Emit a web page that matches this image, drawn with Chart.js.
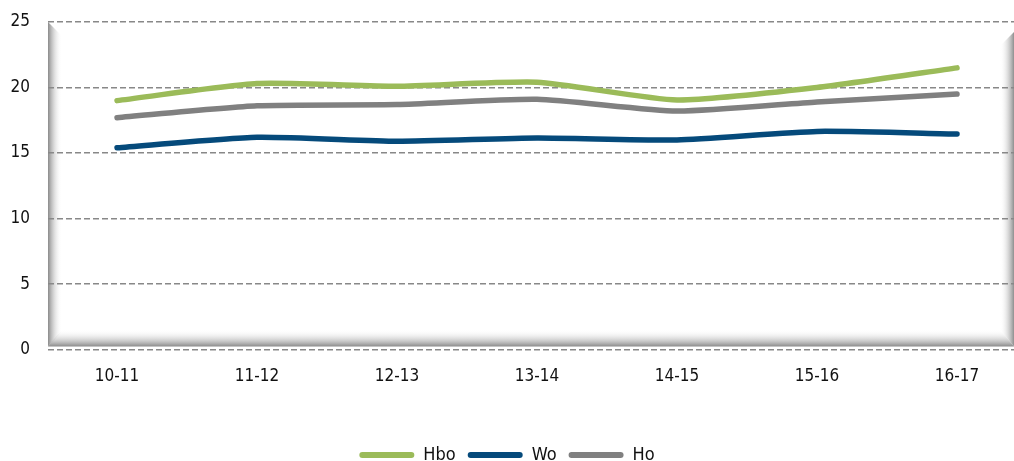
<!DOCTYPE html>
<html>
<head>
<meta charset="utf-8">
<script src="https://cdn.jsdelivr.net/npm/chart.js@4/dist/chart.umd.min.js"></script>
<style>
  html, body { margin: 0; padding: 0; background: #fff; overflow: hidden; }
  #wrap { width: 1014px; height: 461px; }
</style>
</head>
<body>
<div id="wrap"><canvas id="chart"></canvas></div>
<script>
const years = ['10-11', '11-12', '12-13', '13-14', '14-15', '15-16', '16-17'];
const hbo = [19.0, 20.3, 20.1, 20.4, 19.05, 20.0, 21.5];
const wo = [15.4, 16.2, 15.9, 16.15, 16.0, 16.65, 16.45];
const ho = [17.7, 18.6, 18.7, 19.1, 18.2, 18.9, 19.5];
const yTicks = [0, 5, 10, 15, 20, 25];

const FONT = '"DejaVu Sans Condensed", "DejaVu Sans", sans-serif';

function toPoints(values) {
  return values.map((v, i) => ({ x: i, y: v }));
}

// white plot area with a grey bevel on left, bottom and right
const bevel = {
  id: 'bevel',
  beforeDraw(chart) {
    const { ctx, chartArea: a } = chart;
    const d = 14;
    ctx.save();
    ctx.fillStyle = '#fff';
    ctx.fillRect(a.left, a.top, a.right - a.left, a.bottom - a.top);

    let g = ctx.createLinearGradient(a.left, 0, a.left + d, 0);
    g.addColorStop(0, '#8a8a8a');
    g.addColorStop(1, 'rgba(255,255,255,0)');
    ctx.fillStyle = g;
    ctx.beginPath();
    ctx.moveTo(a.left, a.top);
    ctx.lineTo(a.left + d, a.top + d);
    ctx.lineTo(a.left + d, a.bottom - d - 4);
    ctx.lineTo(a.left, a.bottom - 3);
    ctx.closePath();
    ctx.fill();

    g = ctx.createLinearGradient(0, a.bottom - d - 6, 0, a.bottom - 3);
    g.addColorStop(0, 'rgba(255,255,255,0)');
    g.addColorStop(1, '#888');
    ctx.fillStyle = g;
    ctx.beginPath();
    ctx.moveTo(a.left, a.bottom - 3);
    ctx.lineTo(a.left + d, a.bottom - d - 6);
    ctx.lineTo(a.right - d, a.bottom - d - 6);
    ctx.lineTo(a.right, a.bottom - 3);
    ctx.closePath();
    ctx.fill();

    g = ctx.createLinearGradient(a.right - d, 0, a.right, 0);
    g.addColorStop(0, 'rgba(255,255,255,0)');
    g.addColorStop(1, '#8f8f8f');
    ctx.fillStyle = g;
    ctx.beginPath();
    ctx.moveTo(a.right, a.top + 10);
    ctx.lineTo(a.right - d, a.top + 10 + d);
    ctx.lineTo(a.right - d, a.bottom - d - 6);
    ctx.lineTo(a.right, a.bottom - 3);
    ctx.closePath();
    ctx.fill();
    ctx.restore();
  }
};

function makeSet(label, values, color) {
  return {
    label: label,
    data: toPoints(values),
    borderColor: color,
    backgroundColor: color,
    borderWidth: 5.5,
    borderCapStyle: 'round',
    borderJoinStyle: 'round',
    pointRadius: 0,
    tension: 0.2
  };
}

new Chart(document.getElementById('chart'), {
  type: 'line',
  data: {
    datasets: [
      makeSet('Hbo', hbo, '#9bbb59'),
      makeSet('Wo', wo, '#054a7b'),
      makeSet('Ho', ho, '#808080')
    ]
  },
  options: {
    responsive: true,
    maintainAspectRatio: false,
    animation: false,
    layout: { padding: { top: 22, left: 0, right: 0, bottom: -13 } },
    plugins: {
      tooltip: { enabled: false },
      legend: {
        position: 'bottom',
        title: { display: true, text: ' ', font: { size: 2 }, padding: 6 },
        labels: {
          boxWidth: 55,
          boxHeight: 6,
          padding: 12,
          color: '#111',
          font: { family: FONT, size: 18 },
          useBorderRadius: true,
          generateLabels(chart) {
            return chart.data.datasets.map((ds, i) => ({
              text: ds.label,
              fillStyle: ds.borderColor,
              strokeStyle: ds.borderColor,
              lineWidth: 0,
              borderRadius: 3,
              fontColor: '#111',
              datasetIndex: i
            }));
          }
        }
      }
    },
    scales: {
      x: {
        type: 'linear',
        min: -0.493,
        max: 6.407,
        afterBuildTicks(scale) {
          scale.ticks = years.map((y, i) => ({ value: i }));
        },
        afterFit(scale) {
          scale.height = 70;
        },
        grid: { display: false, drawTicks: false },
        border: { display: false },
        ticks: {
          padding: 17,
          color: '#111',
          font: { family: FONT, size: 17 },
          callback: (v) => years[v]
        }
      },
      y: {
        min: 0,
        max: 25,
        afterBuildTicks(scale) {
          scale.ticks = yTicks.map(v => ({ value: v }));
        },
        afterFit(scale) {
          scale.width = 48;
          scale.paddingTop = 0;
          scale.paddingBottom = 0;
        },
        grid: { color: '#888', lineWidth: 1.6, drawTicks: false },
        border: { display: false, dash: [6, 3] },
        ticks: {
          padding: 18,
          color: '#111',
          font: { family: FONT, size: 17 }
        }
      }
    }
  },
  plugins: [bevel]
});
</script>
</body>
</html>
